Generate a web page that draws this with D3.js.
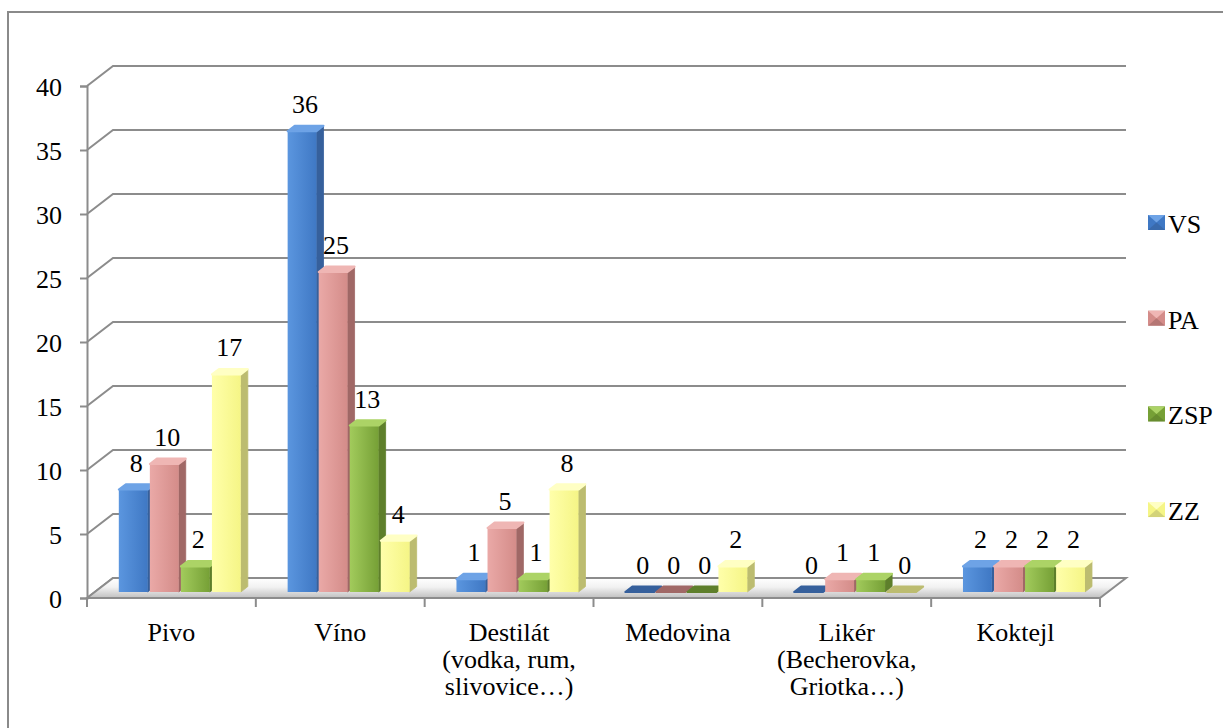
<!DOCTYPE html>
<html>
<head>
<meta charset="utf-8">
<script src="https://cdn.jsdelivr.net/npm/d3@7"></script>
<style>
  body { margin: 0; background: #fff; }
  #chart, #chart text, #chart tspan { font-family: "Liberation Serif", "Times New Roman", Tinos, serif !important; }
</style>
</head>
<body>
<svg id="chart" width="1223" height="728"></svg>
<script>
  // data
  const categories = ['Pivo', 'Víno', 'Destilát', 'Medovina', 'Likér', 'Koktejl'];
  const categoryLines = [
    ['Pivo'],
    ['Víno'],
    ['Destilát', '(vodka, rum,', 'slivovice…)'],
    ['Medovina'],
    ['Likér', '(Becherovka,', 'Griotka…)'],
    ['Koktejl']
  ];
  const seriesNames = ['VS', 'PA', 'ZSP', 'ZZ'];
  const valuesVS = [8, 36, 1, 0, 0, 2];
  const valuesPA = [10, 25, 5, 0, 1, 2];
  const valuesZSP = [2, 13, 1, 0, 1, 2];
  const valuesZZ = [17, 4, 8, 2, 0, 2];
  const seriesValues = [valuesVS, valuesPA, valuesZSP, valuesZZ];
  const yTicks = [0, 5, 10, 15, 20, 25, 30, 35, 40];

  // look
  const SERIF = 'Liberation Serif';
  const palette = {
    VS: { light: '#5b96df', dark: '#3f78c4', side: '#36609c', top: '#6ea3e6' },
    PA: { light: '#eaa9a7', dark: '#d48c89', side: '#a06866', top: '#efb6b4' },
    ZSP: { light: '#a2cb5c', dark: '#76a036', side: '#5e7f2b', top: '#acd366' },
    ZZ: { light: '#ffffaa', dark: '#f5f586', side: '#bcbc70', top: '#ffffc4' }
  };
  const FONT = 26;
  const DX = 26, DY = 20;          // depth of the plot box
  const Z_FRONT = 0.3, Z_BACK = 0.57; // bar depth within the box

  const svg = d3.select('#chart').attr('font-family', SERIF);
  const defs = svg.append('defs');

  const x0 = d3.scaleBand().domain(categories).range([87, 1100]);
  const x1 = d3.scaleBand().domain(seriesNames).range([24, 146]).paddingInner(0.07);
  const y = d3.scaleLinear().domain([0, 40]).range([598, 86]);

  // outer frame
  svg.append('rect')
    .attr('x', 8).attr('y', 12)
    .attr('width', 1240).attr('height', 740)
    .attr('fill', 'none').attr('stroke', '#8a8a8a').attr('stroke-width', 2);

  // gradients
  seriesNames.forEach(s => {
    const g = defs.append('linearGradient').attr('id', 'g-' + s)
      .attr('x1', 0).attr('x2', 1).attr('y1', 0).attr('y2', 0);
    g.append('stop').attr('offset', '0%').attr('stop-color', palette[s].light);
    g.append('stop').attr('offset', '100%').attr('stop-color', palette[s].dark);
  });
  const fg = defs.append('linearGradient').attr('id', 'floor')
    .attr('x1', 0).attr('x2', 0).attr('y1', 0).attr('y2', 1);
  fg.append('stop').attr('offset', '0%').attr('stop-color', '#ffffff');
  fg.append('stop').attr('offset', '45%').attr('stop-color', '#f2f2f2');
  fg.append('stop').attr('offset', '100%').attr('stop-color', '#c0c0c0');

  const xLeft = x0.range()[0], xRight = x0.range()[1];

  // back wall grid lines + side wall diagonals
  const grid = svg.append('g').attr('stroke', '#8c8c8c').attr('stroke-width', 2).attr('fill', 'none');
  grid.selectAll('path')
    .data(yTicks)
    .join('path')
    .attr('d', v => `M${xLeft},${y(v)} L${xLeft + DX},${y(v) - DY} L${xRight + DX},${y(v) - DY}`);

  // floor
  svg.append('path')
    .attr('d', `M${xLeft},${y(0)} L${xLeft + DX},${y(0) - DY} L${xRight + DX},${y(0) - DY} L${xRight},${y(0)} Z`)
    .attr('fill', 'url(#floor)')
    .attr('stroke', '#8c8c8c').attr('stroke-width', 2);

  // y axis
  const yAxis = svg.append('g')
    .attr('transform', `translate(${xLeft},0)`)
    .call(d3.axisLeft(y).tickValues(yTicks).tickSize(7).tickPadding(18))
    .attr('font-family', SERIF)
    .attr('font-size', FONT);
  yAxis.select('.domain').attr('stroke', '#8c8c8c').attr('stroke-width', 2);
  yAxis.selectAll('.tick line').attr('stroke', '#8c8c8c').attr('stroke-width', 2);
  yAxis.selectAll('.tick text')
    .attr('font-family', SERIF)
    .attr('fill', '#000')
    .attr('dy', '0.36em');

  // x axis ticks
  const xTickPos = categories.map(c => x0(c)).concat([xRight]);
  svg.append('g').selectAll('line')
    .data(xTickPos)
    .join('line')
    .attr('x1', d => d).attr('x2', d => d)
    .attr('y1', y(0)).attr('y2', y(0) + 9)
    .attr('stroke', '#8c8c8c').attr('stroke-width', 2);

  // category labels
  const catLabels = svg.append('g').selectAll('text')
    .data(categories)
    .join('text')
    .attr('text-anchor', 'middle')
    .attr('font-size', FONT)
    .attr('font-family', SERIF)
    .attr('x', c => x0(c) + x0.bandwidth() / 2)
    .attr('y', 641);
  catLabels.selectAll('tspan')
    .data((c, i) => categoryLines[i])
    .join('tspan')
    .attr('x', function () { return d3.select(this.parentNode).attr('x'); })
    .attr('dy', (d, i) => i === 0 ? 0 : 27)
    .text(d => d);

  // bars
  const bars = [];
  categories.forEach((c, i) => {
    seriesNames.forEach((s, j) => {
      bars.push({ cat: c, series: s, value: seriesValues[j][i] });
    });
  });

  const fx = d => x0(d.cat) + x1(d.series) + Z_FRONT * DX;
  const bw = x1.bandwidth();
  const dzx = (Z_BACK - Z_FRONT) * DX, dzy = (Z_BACK - Z_FRONT) * DY;
  const baseY = y(0) - Z_FRONT * DY;
  const topY = d => y(d.value) - Z_FRONT * DY;

  const barG = svg.append('g').selectAll('g')
    .data(bars)
    .join('g');

  // side
  barG.append('path')
    .attr('d', d => {
      const xr = fx(d) + bw, t = topY(d);
      return `M${xr},${baseY} L${xr},${t} L${xr + dzx},${t - dzy} L${xr + dzx},${baseY - dzy} Z`;
    })
    .attr('fill', d => palette[d.series].side)
    .attr('stroke', d => palette[d.series].side).attr('stroke-width', 0.8);

  // front
  barG.append('rect')
    .attr('x', d => fx(d))
    .attr('y', d => topY(d))
    .attr('width', bw)
    .attr('height', d => baseY - topY(d))
    .attr('fill', d => `url(#g-${d.series})`);

  // top (rounded bevel look)
  barG.append('path')
    .attr('d', d => {
      const xl = fx(d), t = topY(d);
      return `M${xl},${t} L${xl + dzx},${t - dzy} L${xl + bw + dzx},${t - dzy} L${xl + bw},${t} Z`;
    })
    .attr('fill', d => d.value === 0 ? palette[d.series].side : palette[d.series].top)
    .attr('stroke', d => d.value === 0 ? palette[d.series].side : palette[d.series].top)
    .attr('stroke-width', 2)
    .attr('stroke-linejoin', 'round');

  // value labels
  svg.append('g').selectAll('text')
    .data(bars)
    .join('text')
    .attr('text-anchor', 'middle')
    .attr('font-size', FONT)
    .attr('font-family', SERIF)
    .attr('x', d => fx(d) + bw / 2 + 3)
    .attr('y', d => topY(d) - 18)
    .text(d => d.value);

  // legend
  const legend = svg.append('g').attr('transform', 'translate(1148,215)');
  const item = legend.selectAll('g')
    .data(seriesNames)
    .join('g')
    .attr('transform', (d, i) => `translate(0,${i * 95.7})`);
  item.append('rect')
    .attr('width', 17).attr('height', 15)
    .attr('fill', d => palette[d].dark);
  item.append('path')
    .attr('d', 'M0,0 L17,0 L8.5,7.5 Z')
    .attr('fill', d => palette[d].top);
  item.append('path')
    .attr('d', 'M0,15 L17,15 L8.5,7.5 Z')
    .attr('fill', d => palette[d].side)
    .attr('opacity', 0.6);
  item.append('text')
    .attr('x', 20).attr('y', 18)
    .attr('font-size', FONT)
    .attr('font-family', SERIF)
    .text(d => d);
</script>
</body>
</html>
